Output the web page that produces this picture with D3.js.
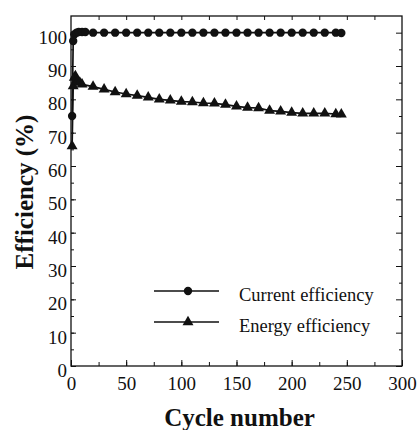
<!DOCTYPE html>
<html>
<head>
<meta charset="utf-8">
<script src="https://cdn.jsdelivr.net/npm/d3@7"></script>
<style>
  body { margin: 0; background: #fff; }
  svg { display: block; }
  .tick text { font-family: "Liberation Serif", serif; font-size: 19px; fill: #111; }
  .tick line { stroke: #111; }
  .domain { display: none; }
</style>
</head>
<body>
<svg id="chart" width="418" height="430"></svg>
<script>
// cycle numbers and efficiencies
var currentCycles = [1, 2, 3, 5, 7, 10, 13, 20, 30, 40, 50, 60, 70, 80, 90, 100, 110, 120, 130, 140, 150, 160, 170, 180, 190, 200, 210, 220, 230, 240, 245];
var currentEff = [75, 97.5, 99.5, 100, 100.2, 100.2, 100.2, 100, 100, 100, 100, 100, 100, 100, 100, 100, 100, 100, 100, 100, 100, 100, 100, 100, 100, 100, 100, 100, 100, 100, 99.9];

var energyCycles = [1, 2, 3, 4, 5, 6, 8, 10, 20, 30, 40, 50, 60, 70, 80, 90, 100, 110, 120, 130, 140, 150, 160, 170, 180, 190, 200, 210, 220, 230, 240, 245];
var energyEff = [66, 84, 86.5, 87, 86, 85.5, 85, 84.5, 83.8, 83, 82.2, 81.6, 81.1, 80.6, 80, 79.7, 79.3, 79.2, 78.9, 78.8, 78.4, 77.9, 77.5, 77.4, 76.6, 76.4, 76, 75.8, 75.8, 75.8, 75.6, 75.5];

var xTicks = [0, 50, 100, 150, 200, 250, 300];
var yTicks = [0, 10, 20, 30, 40, 50, 60, 70, 80, 90, 100];
var seriesNames = ["Current efficiency", "Energy efficiency"];

var svg = d3.select("#chart"),
    plotLeft = 71, plotRight = 402, plotTop = 16, plotBottom = 366;

var x = d3.scaleLinear().domain([0, 300]).range([plotLeft, plotRight]);
var y = d3.scaleLinear().domain([0, 105]).range([plotBottom, plotTop]);

var ink = "#111";

// minor ticks
var minorX = d3.range(25, 300, 25);
var minorY = d3.range(5, 105, 5);

svg.append("g").attr("transform", "translate(0," + plotBottom + ")")
    .call(d3.axisBottom(x).tickValues(minorX).tickFormat("").tickSizeInner(-4).tickSizeOuter(0));
svg.append("g").attr("transform", "translate(0," + plotTop + ")")
    .call(d3.axisTop(x).tickValues(minorX).tickFormat("").tickSizeInner(-4).tickSizeOuter(0));
svg.append("g").attr("transform", "translate(" + plotLeft + ",0)")
    .call(d3.axisLeft(y).tickValues(minorY).tickFormat("").tickSizeInner(-3).tickSizeOuter(0));
svg.append("g").attr("transform", "translate(" + plotRight + ",0)")
    .call(d3.axisRight(y).tickValues(minorY.filter(function (d) { return d % 10 !== 0; })).tickFormat("").tickSizeInner(-3).tickSizeOuter(0));
svg.append("g").attr("transform", "translate(" + plotRight + ",0)")
    .call(d3.axisRight(y).tickValues(yTicks).tickFormat("").tickSizeInner(-6).tickSizeOuter(0));

// labelled axes
var xAxis = svg.append("g").attr("transform", "translate(0," + plotBottom + ")")
    .call(d3.axisBottom(x).tickValues(xTicks).tickSizeInner(-6).tickSizeOuter(0).tickPadding(14));
xAxis.selectAll(".tick text").attr("dy", "0.55em");

var yAxis = svg.append("g").attr("transform", "translate(" + plotLeft + ",0)")
    .call(d3.axisLeft(y).tickValues(yTicks).tickSizeInner(-5).tickSizeOuter(0).tickPadding(4));
yAxis.selectAll(".tick text").attr("dy", "0.55em");

// frame
svg.append("rect")
    .attr("x", plotLeft).attr("y", plotTop)
    .attr("width", plotRight - plotLeft).attr("height", plotBottom - plotTop)
    .attr("fill", "none").attr("stroke", ink).attr("stroke-width", 1.3);

var line = d3.line()
    .x(function (d) { return x(d[0]); })
    .y(function (d) { return y(d[1]); });

var current = currentCycles.map(function (c, i) { return [c, currentEff[i]]; });
var energy = energyCycles.map(function (c, i) { return [c, energyEff[i]]; });

svg.append("path").datum(current)
    .attr("d", line).attr("fill", "none").attr("stroke", ink).attr("stroke-width", 1.7);
svg.append("path").datum(energy)
    .attr("d", line).attr("fill", "none").attr("stroke", ink).attr("stroke-width", 1.7);

var circle = d3.symbol().type(d3.symbolCircle).size(55);
var tri = d3.symbol().type(d3.symbolTriangle).size(52);

svg.selectAll(".cur").data(current).enter().append("path")
    .attr("class", "cur")
    .attr("d", circle)
    .attr("transform", function (d) { return "translate(" + x(d[0]) + "," + y(d[1]) + ")"; })
    .attr("fill", ink);

svg.selectAll(".ene").data(energy).enter().append("path")
    .attr("class", "ene")
    .attr("d", tri)
    .attr("transform", function (d) { return "translate(" + x(d[0]) + "," + y(d[1]) + ")"; })
    .attr("fill", ink);

// legend
var legend = svg.append("g");
var legendY = [291, 322];
var symbols = [circle, tri];
seriesNames.forEach(function (name, i) {
    legend.append("line")
        .attr("x1", 154).attr("x2", 219)
        .attr("y1", legendY[i]).attr("y2", legendY[i])
        .attr("stroke", ink).attr("stroke-width", 1.4);
    legend.append("path")
        .attr("d", symbols[i])
        .attr("transform", "translate(188," + legendY[i] + ")")
        .attr("fill", ink);
    legend.append("text")
        .attr("x", 239).attr("y", legendY[i] + 10)
        .attr("font-family", "Liberation Serif, serif")
        .attr("font-size", 18.5)
        .attr("fill", ink)
        .text(name);
});

// axis titles
svg.append("text")
    .attr("x", (plotLeft + plotRight) / 2 + 3).attr("y", 426)
    .attr("text-anchor", "middle")
    .attr("font-family", "Liberation Serif, serif")
    .attr("font-weight", "bold")
    .attr("font-size", 25)
    .attr("fill", ink)
    .text("Cycle number");

svg.append("text")
    .attr("transform", "translate(33,192) rotate(-90)")
    .attr("text-anchor", "middle")
    .attr("font-family", "Liberation Serif, serif")
    .attr("font-weight", "bold")
    .attr("font-size", 25)
    .attr("fill", ink)
    .text("Efficiency (%)");
</script>
</body>
</html>
